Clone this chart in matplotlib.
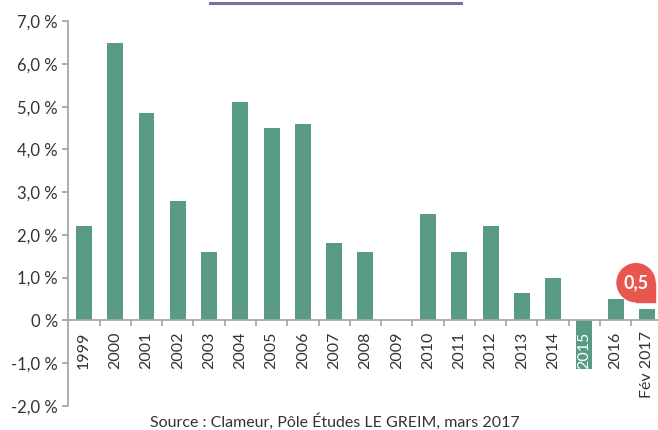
import matplotlib
matplotlib.use("Agg")
import matplotlib.pyplot as plt
import matplotlib.transforms as mtransforms
from matplotlib.patches import Circle, Rectangle
from matplotlib.lines import Line2D

categories = ["1999", "2000", "2001", "2002", "2003", "2004", "2005", "2006", "2007",
              "2008", "2009", "2010", "2011", "2012", "2013", "2014", "2015", "2016",
              "Fév 2017"]
values = [2.2, 6.5, 4.85, 2.8, 1.6, 5.1, 4.5, 4.6, 1.8,
          1.6, 0.0, 2.5, 1.6, 2.2, 0.65, 1.0, -1.15, 0.5, 0.27]
yticks = [-2, -1, 0, 1, 2, 3, 4, 5, 6, 7]
ytick_labels = ["-2,0 %", "-1,0 %", "0 %", "1,0 %", "2,0 %", "3,0 %", "4,0 %", "5,0 %", "6,0 %", "7,0 %"]
callout_text = "0,5"
source_text = "Source : Clameur, Pôle Études LE GREIM, mars 2017"

GREEN = "#599b82"
RED = "#e9554f"
PURPLE = "#7373a0"
GRAY = "#a8a8a8"
TXT = "#333333"

plt.rcParams['font.family'] = ['Lato', 'DejaVu Sans']

fig = plt.figure(figsize=(6.58, 4.30), dpi=100)
ax = fig.add_axes([68.3 / 658, (430 - 405.7) / 430, (662.6 - 68.3) / 658, (405.7 - 21.3) / 430])

x = list(range(len(categories)))
ax.bar(x, values, width=0.51, color=GREEN, zorder=1)

ax.set_xlim(-0.5, len(categories) - 0.5)
ax.set_ylim(-2, 7)

for s in ["top", "right"]:
    ax.spines[s].set_visible(False)
ax.spines["bottom"].set_position(("data", 0))
ax.spines["bottom"].set_color(GRAY)
ax.spines["left"].set_color(GRAY)
ax.spines["bottom"].set_linewidth(1.3)
ax.spines["left"].set_linewidth(1.3)

ax.set_yticks(yticks)
ax.set_yticklabels(ytick_labels)
ax.tick_params(axis="y", length=4.5, width=1.3, color=GRAY, labelcolor=TXT, labelsize=12, pad=3)

ax.set_xticks([i - 0.5 for i in range(1, len(categories) + 1)])
ax.set_xticklabels([])
ax.tick_params(axis="x", which="major", length=4, width=1.3, color=GRAY, direction="out")
ax.set_xticks(x, minor=True)
ax.set_xticklabels(categories, minor=True, rotation=90, va="top", ha="center")
ax.tick_params(axis="x", which="minor", length=0, labelsize=11.5, labelcolor=TXT, pad=8)
for lbl, v in zip(ax.get_xticklabels(minor=True), values):
    if v < -0.5:
        lbl.set_color("white")

# callout
trans = fig.dpi_scale_trans + mtransforms.ScaledTranslation(17.65, 0.88, ax.transData)
r = 0.19
ax.add_patch(Circle((0, 0), r, transform=trans, color=RED, clip_on=False, zorder=5))
ax.add_patch(Rectangle((0, -r), r, r, transform=trans, color=RED, clip_on=False, zorder=5))
ax.text(0, 0, callout_text, transform=trans, color="white", fontsize=13, fontweight="bold",
        ha="center", va="center", zorder=6)

# top decorative line
fig.add_artist(Line2D([210 / 658, 461 / 658], [1 - 3 / 430, 1 - 3 / 430], color=PURPLE, lw=2.2))

fig.text(335 / 658, 1 - 413 / 430, source_text, ha="center", va="top", fontsize=11.5, color=TXT)

fig.savefig("out.png", dpi=100)
